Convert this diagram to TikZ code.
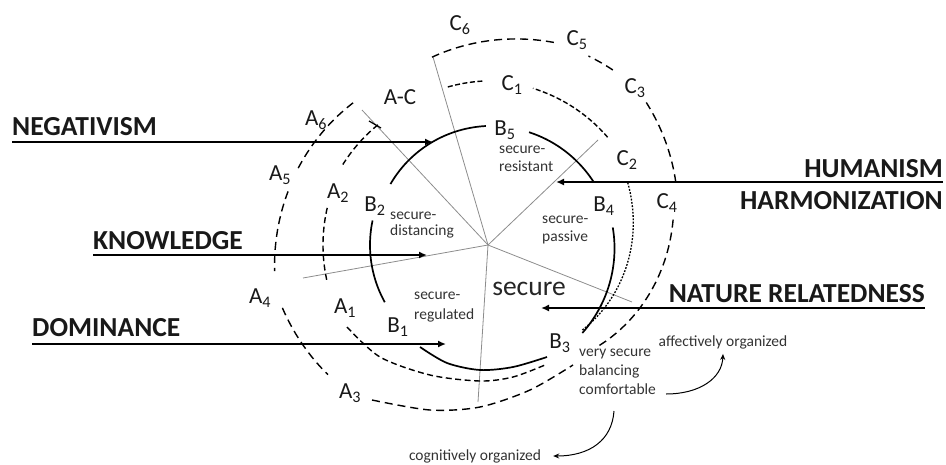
\documentclass[tikz,border=0pt]{standalone}
\usepackage{fontspec}
\setmainfont{Carlito}
\usetikzlibrary{arrows.meta}
\newcommand\Sp[5][]{\draw[#1] plot[domain=#2:#3,samples=70,variable=\t] ({488+(#4+(#5-#4)*(\t-(#2))/((#3)-(#2)))*cos(\t)},{245-(#4+(#5-#4)*(\t-(#2))/((#3)-(#2)))*sin(\t)});}
\begin{document}
\begin{tikzpicture}[x=1pt,y=-1pt,
  big/.style={font=\fontsize{27.5}{30}\selectfont\bfseries, inner sep=0pt, text=black!90},
  lab/.style={font=\fontsize{23}{26}\selectfont, inner sep=0pt, text=black!90},
  smalltxt/.style={font=\fontsize{15.5}{18}\selectfont, inner sep=0pt, align=left, text=black!80},
  spoke/.style={draw=black!45, line width=0.8pt},
  bring/.style={line width=1.7pt},
  adash/.style={line width=1.4pt, dash pattern=on 6pt off 3.5pt},
  odash/.style={line width=1.4pt, dash pattern=on 8pt off 5pt},
  cone/.style={line width=1.4pt, dash pattern=on 5pt off 2.5pt},
  ctwo/.style={line width=1.3pt, dash pattern=on 1.8pt off 1.5pt},
  force/.style={line width=2.8pt, -{Latex[length=8pt,width=7pt]}},
  thinarr/.style={line width=1pt, -{Stealth[length=6pt,width=5pt]}}]
\useasboundingbox (0,0) rectangle (946,464);

% spokes
\coordinate (O) at (488,245);
\coordinate (s1) at (362,110);
\coordinate (s2) at (433,57);
\coordinate (s3) at (598,140);
\coordinate (s4) at (632,302);
\coordinate (s5) at (478,402);
\coordinate (s6) at (303,278);
\foreach \s in {s1,s2,s3,s4,s5,s6} \draw[spoke] (O) -- (\s);

% B ring (solid)
\Sp[bring]{91}{148}{119}{115}
\Sp[bring]{31}{70}{123}{120}
\Sp[bring]{168}{209}{118}{118}
\draw[bring] plot[smooth] coordinates {(420,347) (447,363) (480,370) (513,367) (547,357)};
\Sp[bring]{-43}{8}{129}{126}

% inner A / C ring
\Sp[adash]{132.5}{151}{163}{166}
\draw[line width=1.2pt] (369,121) -- (381,128);
\Sp[adash]{167}{193}{165}{165}
\draw[adash] plot[smooth] coordinates {(347,327) (380,357) (430,375) (480,381) (513,377) (545,365)};
\Sp[cone]{92}{105}{164}{163}
\Sp[cone]{42}{74}{161}{163}
\Sp[ctwo]{-42}{24}{127}{153}

% outer A / C ring
\Sp[odash]{133.5}{158.6}{196}{205}
\Sp[odash]{165}{187}{207}{215}
\Sp[odash]{197}{219}{215}{206}
\draw[odash] plot[smooth] coordinates {(372,400) (430,410) (480,407) (530,390) (573,365)};
\Sp[odash]{72}{106.6}{213}{196}
\Sp[odash]{54.5}{62}{215}{214}
\Sp[odash]{18.5}{42}{198}{213}
\Sp[odash]{-42}{8}{150}{187}

% forces
\node[big, anchor=base west] (neg) at (12,135) {NEGATIVISM};
\coordinate (negtip) at (433,142);
\draw[force] (neg.west |- negtip) -- (negtip);
\node[big, anchor=base west] (know) at (93,249) {KNOWLEDGE};
\coordinate (knowtip) at (427,255);
\draw[force] (know.west |- knowtip) -- (knowtip);
\node[big, anchor=base west] (dom) at (32,336) {DOMINANCE};
\coordinate (domtip) at (446,344);
\draw[force] (dom.west |- domtip) -- (domtip);
\node[big, anchor=base east] (hum) at (943,177) {HUMANISM};
\node[big, anchor=base east] (harm) at (943,209) {HARMONIZATION};
\coordinate (humtip) at (556,182);
\draw[force] (hum.east |- humtip) -- (humtip);
\node[big, anchor=base east] (nat) at (925,302) {NATURE RELATEDNESS};
\coordinate (nattip) at (541,308);
\draw[force] (nat.east |- nattip) -- (nattip);

% ring labels
\node[lab] (c6) at (460,25) {C\textsubscript{6}};
\node[lab] (c5) at (577,40) {C\textsubscript{5}};
\node[lab] (c3) at (635,88) {C\textsubscript{3}};
\node[lab] (c1) at (512,85) {C\textsubscript{1}};
\node[lab] (ac) at (400,97) {A-C};
\node[lab] (a6) at (316,120) {A\textsubscript{6}};
\node[lab] (b5) at (505,130) {B\textsubscript{5}};
\node[lab] (c2) at (627,160) {C\textsubscript{2}};
\node[lab] (c4) at (667,203) {C\textsubscript{4}};
\node[lab] (b4) at (604,206) {B\textsubscript{4}};
\node[lab] (a5) at (280,175) {A\textsubscript{5}};
\node[lab] (a2) at (338,193) {A\textsubscript{2}};
\node[lab] (b2) at (375,206) {B\textsubscript{2}};
\node[lab] (a4) at (260,298) {A\textsubscript{4}};
\node[lab] (a1) at (345,308) {A\textsubscript{1}};
\node[lab] (b1) at (398,327) {B\textsubscript{1}};
\node[lab] (b3) at (560,343) {B\textsubscript{3}};
\node[lab] (a3) at (350,393) {A\textsubscript{3}};

% texts
\node[font=\fontsize{27.5}{30}\selectfont, inner sep=0pt, text=black!85] (sec) at (529,289) {secure};
\node[smalltxt, anchor=north west] (res) at (499,146) {secure-\\resistant};
\node[smalltxt, anchor=north west, font=\fontsize{15.5}{16}\selectfont] (dist) at (390,212) {secure-\\distancing};
\node[smalltxt, anchor=north west] (pas) at (542,216) {secure-\\passive};
\node[smalltxt, anchor=north west, font=\fontsize{15.5}{20}\selectfont] (reg) at (414,292) {secure-\\regulated};
\node[smalltxt, anchor=north west, font=\fontsize{15.5}{19}\selectfont] (vsec) at (579,349) {very secure\\balancing\\comfortable};
\node[smalltxt] (aff) at (723,342) {affectively organized};
\node[smalltxt] (cog) at (475,456) {cognitively organized};

\coordinate (ca) at (666,394);
\coordinate (cb) at (614,411);
\draw[thinarr] (ca) .. controls (700,394) and (722,378) .. ([yshift=-5pt]aff.south);
\draw[thinarr] (cb) .. controls (612,440) and (590,456) .. ([xshift=12pt]cog.east);
\end{tikzpicture}
\end{document}
